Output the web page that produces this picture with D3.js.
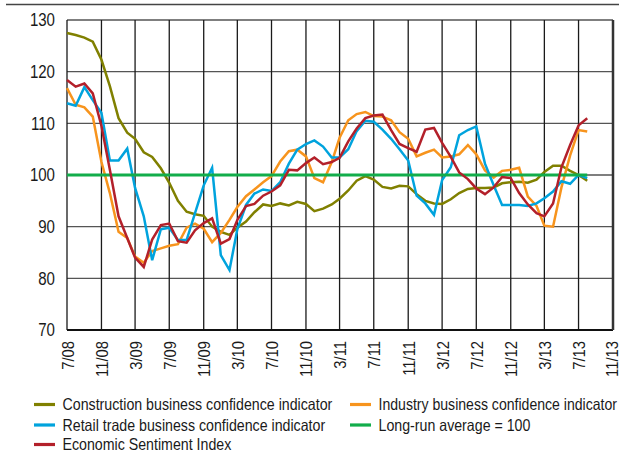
<!DOCTYPE html>
<html>
<head>
<meta charset="utf-8">
<script src="https://cdn.jsdelivr.net/npm/d3@7"></script>
<style>
  html, body { margin: 0; padding: 0; background: #fff; }
  svg { display: block; font-family: "Liberation Sans", Arial, sans-serif; }
</style>
</head>
<body>
<div id="chart"></div>
<script>
// monthly observations, 7/08 .. 8/13
const startMonth = '7/08';

const construction = [
  127.5, 127.1, 126.6, 125.8, 122.3, 117.2, 111.0, 108.2, 107.0, 104.4,
  103.5, 101.3, 98.5, 95.0, 92.9, 92.4, 92.1, 90.0, 89.0, 88.4,
  89.8, 91.0, 92.8, 94.3, 94.0, 94.5, 94.1, 94.8, 94.4, 93.0,
  93.5, 94.3, 95.4, 97.0, 98.9, 99.8, 99.1, 97.7, 97.4, 97.9,
  97.8, 96.3, 95.0, 94.5, 94.4, 95.3, 96.5, 97.3, 97.5, 97.5,
  97.6, 98.4, 98.6, 98.7, 98.5, 99.1, 100.6, 101.8, 101.8, 100.8,
  100.0, 98.9
];

const industry = [
  116.8, 113.6, 113.1, 111.3, 102.5, 96.5, 89.0, 87.8, 84.2, 83.0,
  85.3, 85.8, 86.3, 86.6, 89.8, 90.6, 89.6, 87.0, 88.8, 91.3,
  93.8, 95.9, 97.2, 98.6, 99.8, 102.6, 104.6, 104.9, 103.6, 99.4,
  98.6, 102.5, 107.2, 110.6, 111.8, 112.2, 111.4, 111.3, 110.6, 108.3,
  107.0, 103.6, 104.3, 104.9, 103.4, 103.6, 104.0, 105.8, 104.0, 100.9,
  99.5, 100.8, 101.0, 101.4, 95.8, 94.0, 90.2, 90.0, 97.6, 103.8,
  108.7, 108.4
];

const retail = [
  113.9, 113.4, 117.0, 114.5, 112.0, 102.8, 102.8, 105.1, 97.5, 92.0,
  83.5, 89.5, 89.8, 87.4, 87.4, 92.6, 98.0, 101.4, 84.5, 81.6,
  89.5, 94.2, 96.4, 97.2, 96.9, 98.6, 102.2, 104.9, 106.0, 106.7,
  105.5, 103.4, 103.4, 105.0, 108.5, 110.5, 110.3, 108.8, 107.0, 105.0,
  102.8, 96.0, 94.5, 92.3, 99.0, 101.5, 107.7, 108.7, 109.4, 102.2,
  98.0, 94.2, 94.2, 94.2, 94.0, 94.5, 95.5, 96.8, 98.8, 98.3,
  100.0, 99.4
];

const sentiment = [
  118.4, 117.1, 117.7, 115.8, 109.5, 101.0, 92.0, 87.8, 84.0, 82.2,
  87.5, 90.3, 90.6, 87.2, 86.9, 89.3, 90.7, 91.6, 86.7, 87.6,
  91.3, 94.0, 94.4, 96.0, 96.8, 98.0, 101.0, 100.9, 102.3, 103.4,
  102.1, 102.5, 103.3, 106.5, 109.0, 111.0, 111.5, 111.7, 108.7, 106.0,
  105.2, 104.5, 108.8, 109.1, 106.2, 103.5, 100.5, 99.2, 97.4, 96.3,
  97.6, 99.6, 99.4, 96.5, 94.3, 92.6, 92.0, 94.5, 101.5, 105.8,
  109.6, 111.0
];

const longRunAverage = 100;

const tickLabels = ['7/08', '11/08', '3/09', '7/09', '11/09', '3/10', '7/10', '11/10',
  '3/11', '7/11', '11/11', '3/12', '7/12', '11/12', '3/13', '7/13', '11/13'];
const yTicks = [70, 80, 90, 100, 110, 120, 130];

const seriesNames = [
  'Construction business confidence indicator',
  'Industry business confidence indicator',
  'Retail trade business confidence indicator',
  'Long-run average = 100',
  'Economic Sentiment Index'
];
const seriesColors = ['#808000', '#f7941d', '#00a3dd', '#12ad4b', '#b3202a'];

const width = 619, height = 453;
const margin = { top: 20, right: 6, bottom: 123, left: 67 };

const parseMonth = d3.timeParse('%m/%y');
const t0 = parseMonth(startMonth);
const dates = construction.map((_, i) => d3.timeMonth.offset(t0, i));
const tickDates = tickLabels.map(parseMonth);

const x = d3.scaleTime()
  .domain([tickDates[0], tickDates[tickDates.length - 1]])
  .range([margin.left, width - margin.right]);

const y = d3.scaleLinear()
  .domain([70, 130])
  .range([height - margin.bottom, margin.top]);

const svg = d3.select('#chart')
  .append('svg')
  .attr('width', width)
  .attr('height', height);

// the original uses a condensed face; squeeze the regular one to match,
// and keep it inside the page if maxRight is given
function condense(sel, k, maxRight) {
  sel.each(function () {
    let w = this.getComputedTextLength() * k;
    if (maxRight) {
      const box = this.getBBox();
      const ctm = this.parentNode.getCTM();
      const left = box.x + (ctm ? ctm.e : 0);
      w = Math.min(w, maxRight - left);
    }
    d3.select(this).attr('textLength', w).attr('lengthAdjust', 'spacingAndGlyphs');
  });
}

// top rule
svg.append('line')
  .attr('x1', 6).attr('x2', width)
  .attr('y1', 4.5).attr('y2', 4.5)
  .attr('stroke', '#444')
  .attr('stroke-width', 1.5);

// horizontal grid
svg.append('g')
  .selectAll('line')
  .data(yTicks)
  .join('line')
  .attr('x1', x.range()[0]).attr('x2', x.range()[1])
  .attr('y1', d => y(d)).attr('y2', d => y(d))
  .attr('stroke', '#555')
  .attr('stroke-width', 1.3);

// vertical grid
svg.append('g')
  .selectAll('line')
  .data(tickDates)
  .join('line')
  .attr('x1', d => x(d)).attr('x2', d => x(d))
  .attr('y1', y(130)).attr('y2', y(70))
  .attr('stroke', '#1a1a1a')
  .attr('stroke-width', 1.3);

// axes frame
svg.append('line')
  .attr('x1', x.range()[0]).attr('x2', x.range()[1])
  .attr('y1', y(70)).attr('y2', y(70))
  .attr('stroke', '#111').attr('stroke-width', 2.2);
svg.append('line')
  .attr('x1', x.range()[1]).attr('x2', x.range()[1])
  .attr('y1', y(130)).attr('y2', y(70))
  .attr('stroke', '#333').attr('stroke-width', 2.5);

// y labels
svg.append('g')
  .selectAll('text')
  .data(yTicks)
  .join('text')
  .attr('x', 55)
  .attr('y', d => y(d))
  .attr('dy', '0.36em')
  .attr('text-anchor', 'end')
  .attr('fill', '#1a1a1a')
  .style('font-size', '17.5px')
  .text(d => d)
  .call(condense, 0.86);

// x labels, rotated
svg.append('g')
  .selectAll('text')
  .data(tickDates)
  .join('text')
  .attr('transform', d => `translate(${Math.min(x(d) + 6.5, width - 1)},${y(70) + 11}) rotate(-90)`)
  .attr('text-anchor', 'end')
  .attr('fill', '#1a1a1a')
  .style('font-size', '17px')
  .text((d, i) => tickLabels[i])
  .call(condense, 0.87);

const line = d3.line()
  .x((d, i) => x(dates[i]))
  .y(d => y(d));

const plotted = [
  { values: construction, color: seriesColors[0] },
  { values: industry, color: seriesColors[1] },
  { values: retail, color: seriesColors[2] },
  { values: dates.map(() => longRunAverage), color: seriesColors[3] },
  { values: sentiment, color: seriesColors[4] }
];

svg.append('g')
  .selectAll('path')
  .data(plotted)
  .join('path')
  .attr('fill', 'none')
  .attr('stroke', d => d.color)
  .attr('stroke-width', d => d.color === seriesColors[3] ? 3 : 2.5)
  .attr('stroke-linejoin', 'miter')
  .attr('d', d => line(d.values));

// legend
const legendPos = [
  [34, 404.5], [350, 404.5], [34, 425], [350, 425], [34, 444.5]
];
const legend = svg.append('g')
  .selectAll('g')
  .data(seriesNames)
  .join('g')
  .attr('transform', (d, i) => `translate(${legendPos[i][0]},${legendPos[i][1]})`);

legend.append('line')
  .attr('x1', 0).attr('x2', 21)
  .attr('stroke', (d, i) => seriesColors[i])
  .attr('stroke-width', 3.2);

legend.append('text')
  .attr('x', 28.5)
  .attr('dy', '0.36em')
  .attr('fill', '#1a1a1a')
  .style('font-size', '16.5px')
  .text(d => d)
  .call(condense, 0.86, width - 2);
</script>
</body>
</html>
